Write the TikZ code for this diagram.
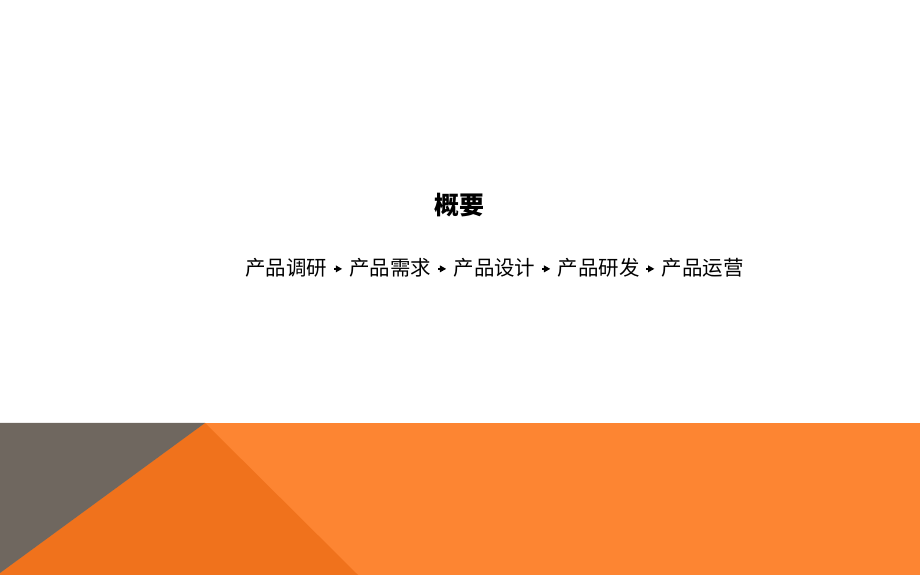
\documentclass[tikz,border=0pt]{standalone}
\usepackage{fontspec}
\newfontfamily\cjk{Noto Sans CJK SC}
\usetikzlibrary{positioning}
\usetikzlibrary{arrows.meta}

\definecolor{bandorange}{RGB}{253,133,50}
\definecolor{darkorange}{RGB}{240,114,28}
\definecolor{bandgrey}{RGB}{111,103,95}

\begin{document}
\begin{tikzpicture}[node distance=0.43cm,
  stagebox/.style={inner sep=0pt, font=\cjk\fontsize{11.65}{14}\selectfont},
  flow/.style={-{Triangle[length=3.6pt,width=3.8pt]}, line width=0.8pt, shorten <=0.13cm, shorten >=0.14cm}]
\useasboundingbox (0,0) rectangle (18.4,11.5);

% bottom band
\fill[bandorange] (0,0) rectangle (18.4,3.04);
\fill[darkorange] (4.1,3.04) -- (0,0.04) -- (0,0) -- (7.16,0) -- cycle;
\fill[bandgrey] (0,3.04) -- (4.1,3.04) -- (0,0.04) -- cycle;

\node[font=\cjk\bfseries\fontsize{14.2}{16}\selectfont] (title) at (9.18,7.4) {概要};

\node[stagebox,anchor=west] (research) at (4.9,6.14) {产品调研};
\node[stagebox,right=of research] (demand) {产品需求};
\node[stagebox,right=of demand] (design) {产品设计};
\node[stagebox,right=of design] (develop) {产品研发};
\node[stagebox,right=of develop] (operate) {产品运营};

\draw[flow] ([yshift=-0.5pt]research.east) -- ([yshift=-0.5pt]demand.west);
\draw[flow] ([yshift=-0.5pt]demand.east) -- ([yshift=-0.5pt]design.west);
\draw[flow] ([yshift=-0.5pt]design.east) -- ([yshift=-0.5pt]develop.west);
\draw[flow] ([yshift=-0.5pt]develop.east) -- ([yshift=-0.5pt]operate.west);
\end{tikzpicture}
\end{document}
